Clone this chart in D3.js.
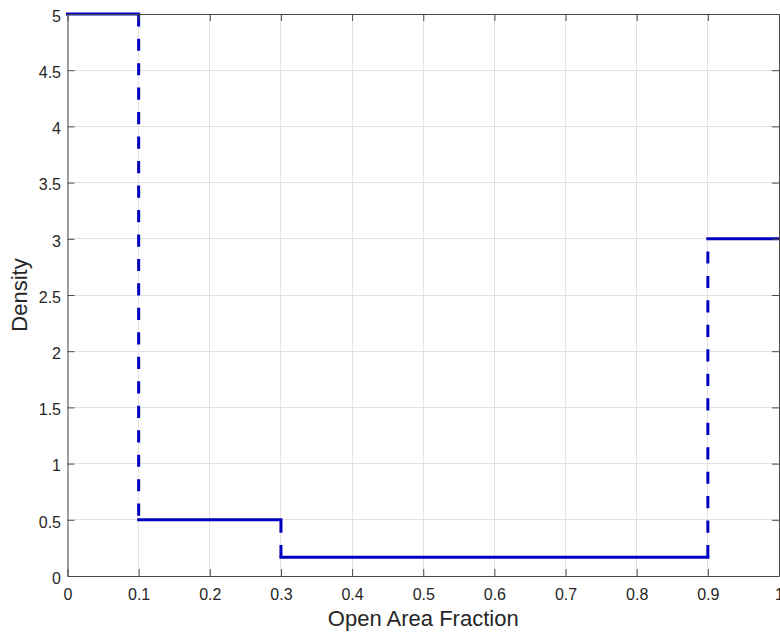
<!DOCTYPE html>
<html>
<head>
<meta charset="utf-8">
<script src="https://cdn.jsdelivr.net/npm/d3@7"></script>
<style>
  html, body { margin: 0; padding: 0; background: #ffffff; }
  svg { display: block; }
  text { font-family: "Liberation Sans", Arial, Helvetica, sans-serif; fill: #262626; }
</style>
</head>
<body>
<svg id="chart" width="780" height="634"></svg>
<script>
// Piecewise-constant density over open area fraction
const binEdges = [0, 0.1, 0.3, 0.9, 1];
const densities = [5, 0.5, 0.1667, 3];

const xTickValues = [0, 0.1, 0.2, 0.3, 0.4, 0.5, 0.6, 0.7, 0.8, 0.9, 1];
const xTickLabels = ["0", "0.1", "0.2", "0.3", "0.4", "0.5", "0.6", "0.7", "0.8", "0.9", "1"];
const yTickValues = [0, 0.5, 1, 1.5, 2, 2.5, 3, 3.5, 4, 4.5, 5];
const yTickLabels = ["0", "0.5", "1", "1.5", "2", "2.5", "3", "3.5", "4", "4.5", "5"];

const xLabel = "Open Area Fraction";
const yLabel = "Density";

const W = 780, H = 634;
const margin = { left: 67.5, right: 1, top: 14, bottom: 58 };

const svg = d3.select("#chart");
const x = d3.scaleLinear().domain([0, 1]).range([margin.left, W - margin.right]);
const y = d3.scaleLinear().domain([0, 5]).range([H - margin.bottom, margin.top]);

const lineColor = "#0000c0";
const axisColor = "#4a4a4a";
const gridColor = "#e3e3e3";
const tickLen = 7;
const tickFont = 16;
const titleFont = 22;

// grid
const grid = svg.append("g");
grid.selectAll("line.gx").data(xTickValues).join("line")
  .attr("x1", d => x(d)).attr("x2", d => x(d))
  .attr("y1", y(0)).attr("y2", y(5))
  .attr("stroke", gridColor).attr("stroke-width", 1).attr("shape-rendering", "crispEdges");
grid.selectAll("line.gy").data(yTickValues).join("line")
  .attr("x1", x(0)).attr("x2", x(1))
  .attr("y1", d => y(d)).attr("y2", d => y(d))
  .attr("stroke", gridColor).attr("stroke-width", 1).attr("shape-rendering", "crispEdges");

// vertical jumps between bins, dashed
const jumps = d3.range(1, densities.length).map(i => ({
  xv: binEdges[i],
  lo: Math.min(densities[i - 1], densities[i]),
  hi: Math.max(densities[i - 1], densities[i])
}));
// dash phase of each jump, measured from its lower end
const jumpPhase = [-4, 0, 0];

const plot = svg.append("g");
plot.selectAll("line.jump").data(jumps).join("line")
  .attr("x1", d => x(d.xv)).attr("x2", d => x(d.xv))
  .attr("y1", d => y(d.lo)).attr("y2", d => y(d.hi))
  .attr("stroke", lineColor).attr("stroke-width", 3)
  .attr("stroke-dasharray", "12.2 12.27")
  .attr("stroke-dashoffset", (d, i) => jumpPhase[i]);

// horizontal levels, solid
const levels = densities.map((v, i) => ({ x0: binEdges[i], x1: binEdges[i + 1], v }));
plot.selectAll("line.level").data(levels).join("line")
  .attr("x1", d => x(d.x0)).attr("x2", d => x(d.x1))
  .attr("y1", d => y(d.v)).attr("y2", d => y(d.v))
  .attr("stroke", lineColor).attr("stroke-width", 3)
  .attr("stroke-linecap", "square");

// axes (box with inward ticks)
function styleAxis(g) {
  g.attr("font-size", tickFont);
  g.selectAll("path.domain").attr("stroke", axisColor).attr("stroke-width", 1);
  g.selectAll(".tick line").attr("stroke", axisColor).attr("stroke-width", 1);
  g.selectAll(".tick text").attr("fill", "#262626")
    .attr("font-family", '"Liberation Sans", Arial, Helvetica, sans-serif')
    .attr("font-size", tickFont);
}

const gx = svg.append("g").attr("transform", `translate(0,${y(0)})`)
  .call(d3.axisBottom(x).tickValues(xTickValues).tickFormat((d, i) => xTickLabels[i])
    .tickSizeInner(-tickLen).tickSizeOuter(0).tickPadding(14));
styleAxis(gx);
gx.selectAll(".tick text").attr("y", 24).attr("dy", 0);

const gy = svg.append("g").attr("transform", `translate(${x(0)},0)`)
  .call(d3.axisLeft(y).tickValues(yTickValues).tickFormat((d, i) => yTickLabels[i])
    .tickSizeInner(-tickLen).tickSizeOuter(0).tickPadding(6.5));
styleAxis(gy);
gy.selectAll(".tick text").attr("dy", "0.45em");

const gt = svg.append("g").attr("transform", `translate(0,${y(5)})`)
  .call(d3.axisTop(x).tickValues(xTickValues).tickFormat("")
    .tickSizeInner(-tickLen).tickSizeOuter(0));
styleAxis(gt);

const gr = svg.append("g").attr("transform", `translate(${x(1)},0)`)
  .call(d3.axisRight(y).tickValues(yTickValues).tickFormat("")
    .tickSizeInner(-tickLen).tickSizeOuter(0));
styleAxis(gr);

// axis titles
svg.append("text")
  .attr("x", (x(0) + x(1)) / 2).attr("y", 626)
  .attr("text-anchor", "middle").attr("font-size", titleFont)
  .text(xLabel);

svg.append("text")
  .attr("transform", `translate(27,${(y(0) + y(5)) / 2}) rotate(-90)`)
  .attr("text-anchor", "middle").attr("font-size", titleFont)
  .text(yLabel);
</script>
</body>
</html>
